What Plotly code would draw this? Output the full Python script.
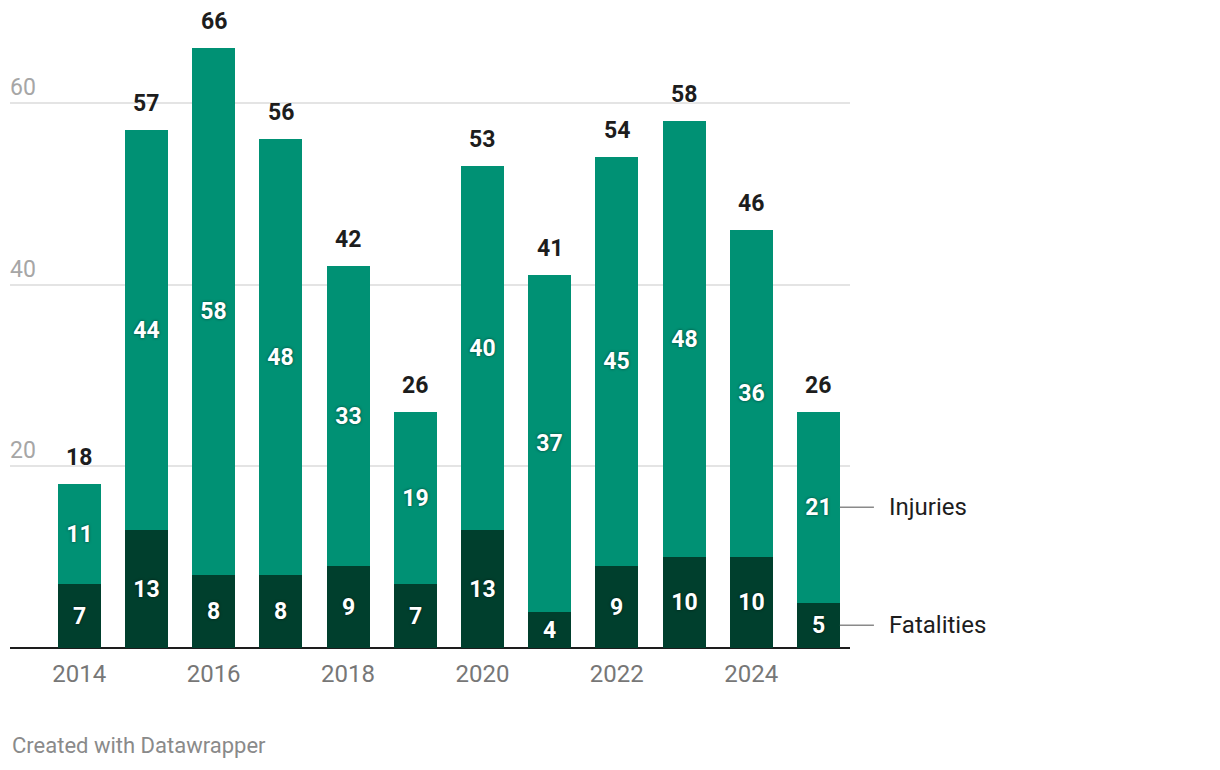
import plotly.graph_objects as go

years = [2014, 2015, 2016, 2017, 2018, 2019, 2020, 2021, 2022, 2023, 2024, 2025]
fatalities = [7, 13, 8, 8, 9, 7, 13, 4, 9, 10, 10, 5]
injuries = [11, 44, 58, 48, 33, 19, 40, 37, 45, 48, 36, 21]
totals = [f + i for f, i in zip(fatalities, injuries)]
x_ticks = [2014, 2016, 2018, 2020, 2022, 2024]
y_ticks = [20, 40, 60]

C_INJ = "#009174"
C_FAT = "#003f2d"
FONT = "Roboto"
BAR_W = 0.64

inner_font = dict(family=FONT, size=23, color="white", weight="bold",
                  shadow="0px 0px 3px rgba(0,0,0,0.55)")

fig = go.Figure()
fig.add_trace(go.Bar(
    x=years, y=fatalities, name="Fatalities", marker=dict(color=C_FAT, line=dict(width=0)),
    width=BAR_W, text=[str(v) for v in fatalities], textposition="inside",
    insidetextanchor="middle", constraintext="none", textangle=0,
    insidetextfont=inner_font, hoverinfo="skip"))
fig.add_trace(go.Bar(
    x=years, y=injuries, name="Injuries", marker=dict(color=C_INJ, line=dict(width=0)),
    width=BAR_W, text=[str(v) for v in injuries], textposition="inside",
    insidetextanchor="middle", constraintext="none", textangle=0,
    insidetextfont=inner_font, hoverinfo="skip"))

annotations = []
for x, t in zip(years, totals):
    annotations.append(dict(
        x=x, y=t, xref="x", yref="y", text=f"<b>{t}</b>", showarrow=False,
        yanchor="bottom", yshift=11,
        font=dict(family=FONT, size=23, color="#1d1d1d",
                  shadow="0px 0px 3px white")))

last = len(years) - 1
edge = years[last] + BAR_W / 2
for name, yv in [("Injuries", fatalities[last] + injuries[last] / 2),
                 ("Fatalities", fatalities[last] / 2)]:
    annotations.append(dict(
        x=edge, y=yv, xref="x", yref="y", text=name, showarrow=True,
        arrowhead=0, arrowwidth=1.5, arrowcolor="#8a8a8a", ax=34, ay=0,
        xanchor="left", standoff=0, borderpad=14,
        font=dict(family=FONT, size=24, color="#1d1d1d")))

annotations.append(dict(
    x=0, y=-0.154, xref="paper", yref="paper", text="Created with Datawrapper",
    showarrow=False, xanchor="left", yanchor="middle",
    font=dict(family=FONT, size=22, color="#8a8a8a")))

fig.update_layout(
    width=1220, height=770,
    margin=dict(l=10, r=370, t=12, b=122),
    barmode="stack", bargap=0,
    plot_bgcolor="white", paper_bgcolor="white",
    showlegend=False,
    font=dict(family=FONT),
    xaxis=dict(range=[2012.97, 2025.47], tickvals=x_ticks, ticktext=[str(v) for v in x_ticks],
               showgrid=False, zeroline=False, showline=False, ticks="",
               tickfont=dict(family=FONT, size=24, color="#777777"), ticklabelstandoff=9),
    yaxis=dict(range=[0, 70], tickvals=y_ticks, ticktext=[str(v) for v in y_ticks],
               showgrid=True, gridcolor="#e4e4e4", gridwidth=1.5,
               zeroline=True, zerolinecolor="#1d1d1d", zerolinewidth=2,
               showline=False, ticks="",
               ticklabelposition="inside top", ticklabelstandoff=-3,
               tickfont=dict(family=FONT, size=23, color="#a6a6a6")),
    annotations=annotations,
)

fig.write_html("out.html", config={"displayModeBar": False},
               post_script="document.body.style.margin='0';")
